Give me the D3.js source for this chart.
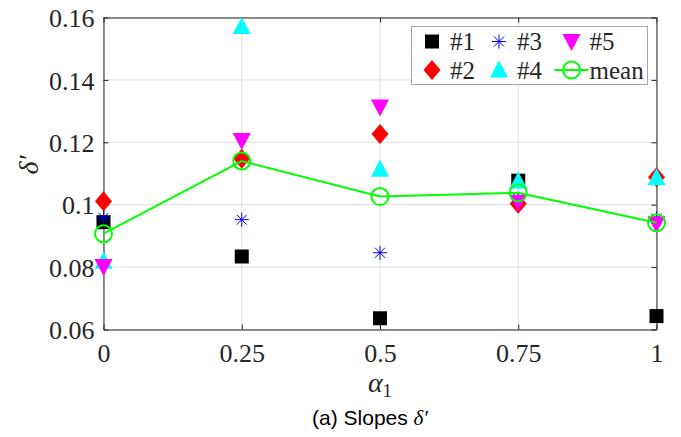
<!DOCTYPE html>
<html>
<head>
<meta charset="UTF-8">
<script src="https://d3js.org/d3.v7.min.js"></script>
<style>
    body { margin: 0; background: #fff; }
    .grid line { stroke: #dedede; stroke-width: 1; }
</style>
</head>
<body>
<div id="chart"></div>
<script>
    // values
    const alphas = [0, 0.25, 0.5, 0.75, 1];
    const s1 = [0.0944, 0.0834, 0.0636, 0.1077, 0.0643];
    const s2 = [0.1011, 0.1147, 0.1227, 0.1003, 0.1088];
    const s3 = [0.0958, 0.0952, 0.0846, 0.1019, 0.0956];
    const s4 = [0.0819, 0.1571, 0.1114, 0.1075, 0.1086];
    const s5 = [0.0802, 0.1206, 0.1313, 0.1008, 0.0939];
    const meanVals = [0.0907, 0.1140, 0.1026, 0.1038, 0.0942];
    const xTicks = [0, 0.25, 0.5, 0.75, 1];
    const xTickLabels = ["0", "0.25", "0.5", "0.75", "1"];
    const yTicks = [0.06, 0.08, 0.1, 0.12, 0.14, 0.16];
    const yTickLabels = ["0.06", "0.08", "0.1", "0.12", "0.14", "0.16"];

    const serif = "Liberation Serif";
    const width = 681, height = 437;
    const pLeft = 103.5, pRight = 656.5, pTop = 17.5, pBottom = 329.5;

    const svg = d3.select("#chart").append("svg")
        .attr("width", width).attr("height", height);

    const x = d3.scaleLinear().domain([0, 1]).range([pLeft, pRight]);
    const y = d3.scaleLinear().domain([0.06, 0.16]).range([pBottom, pTop]);

    // grid
    const grid = svg.append("g").attr("class", "grid");
    grid.selectAll(".gx").data(xTicks).enter().append("line")
        .attr("x1", d => x(d)).attr("x2", d => x(d))
        .attr("y1", pTop).attr("y2", pBottom);
    grid.selectAll(".gy").data(yTicks).enter().append("line")
        .attr("x1", pLeft).attr("x2", pRight)
        .attr("y1", d => y(d)).attr("y2", d => y(d));

    // axes (ticks pointing inwards, box on all sides)
    const xAxis = svg.append("g").attr("transform", `translate(0,${pBottom})`)
        .call(d3.axisBottom(x).tickValues(xTicks).tickFormat((d, i) => xTickLabels[i])
            .tickSizeInner(-5).tickSizeOuter(0).tickPadding(14));
    const yAxis = svg.append("g").attr("transform", `translate(${pLeft},0)`)
        .call(d3.axisLeft(y).tickValues(yTicks).tickFormat((d, i) => yTickLabels[i])
            .tickSizeInner(-5).tickSizeOuter(0).tickPadding(9));
    svg.append("g").attr("transform", `translate(0,${pTop})`)
        .call(d3.axisTop(x).tickValues(xTicks).tickFormat("").tickSizeInner(-5).tickSizeOuter(0));
    svg.append("g").attr("transform", `translate(${pRight},0)`)
        .call(d3.axisRight(y).tickValues(yTicks).tickFormat("").tickSizeInner(-5).tickSizeOuter(0));
    svg.selectAll(".domain").attr("stroke", "#262626");
    svg.selectAll(".tick line").attr("stroke", "#262626");
    xAxis.attr("font-family", serif).attr("font-size", 26);
    yAxis.attr("font-family", serif).attr("font-size", 26);
    svg.selectAll(".tick text").attr("fill", "#262626");
    xAxis.selectAll(".tick text").attr("dy", "0.71em");
    yAxis.selectAll(".tick text").attr("dy", "0.35em");

    // marker paths
    const shapes = {
        square: "M-7,-7H7V7H-7Z",
        diamond: "M0,-10L8.5,0L0,10L-8.5,0Z",
        star: "M-7,0H7M0,-7V7M-5,-5L5,5M-5,5L5,-5",
        up: "M0,-9.5L9,7.5H-9Z",
        down: "M0,9.5L9,-7.5H-9Z",
        circle: d3.symbol(d3.symbolCircle, Math.PI * 8.5 * 8.5)()
    };

    const series = [
        { name: "#1", vals: s1, shape: "square", fill: "#000", stroke: "none" },
        { name: "#2", vals: s2, shape: "diamond", fill: "#ff0000", stroke: "none" },
        { name: "#3", vals: s3, shape: "star", fill: "none", stroke: "#0000ff" },
        { name: "#4", vals: s4, shape: "up", fill: "#00ffff", stroke: "none" },
        { name: "#5", vals: s5, shape: "down", fill: "#ff00ff", stroke: "none" }
    ];

    function marker(g, s) {
        return g.append("path").attr("d", shapes[s.shape])
            .attr("fill", s.fill).attr("stroke", s.stroke).attr("stroke-width", 1);
    }

    series.forEach(s => {
        const g = svg.append("g");
        s.vals.forEach((v, i) => {
            marker(g, s).attr("transform", `translate(${x(alphas[i])},${y(v)})`);
        });
    });

    // mean line
    const line = d3.line().x((d, i) => x(alphas[i])).y(d => y(d));
    svg.append("path").datum(meanVals).attr("d", line)
        .attr("fill", "none").attr("stroke", "#00ff00").attr("stroke-width", 2);
    svg.append("g").selectAll("path").data(meanVals).enter().append("path")
        .attr("d", shapes.circle)
        .attr("transform", (d, i) => `translate(${x(alphas[i])},${y(d)})`)
        .attr("fill", "none").attr("stroke", "#00ff00").attr("stroke-width", 2);

    // legend
    const lg = svg.append("g");
    lg.append("rect").attr("x", 411.5).attr("y", 26.5).attr("width", 236).attr("height", 58)
        .attr("fill", "#fff").attr("stroke", "#a6a6a6").attr("stroke-width", 1);
    const items = [
        { s: series[0], x: 432, y: 41.5 }, { s: series[1], x: 432, y: 70 },
        { s: series[2], x: 499, y: 41.5 }, { s: series[3], x: 499, y: 70 },
        { s: series[4], x: 571.5, y: 41.5 }, { s: { name: "mean", shape: "circle" }, x: 571.5, y: 70 }
    ];
    items.forEach(it => {
        if (it.s.shape === "circle") {
            lg.append("line").attr("x1", it.x - 17).attr("x2", it.x + 17)
                .attr("y1", it.y).attr("y2", it.y)
                .attr("stroke", "#00ff00").attr("stroke-width", 2);
            lg.append("path").attr("d", shapes.circle)
                .attr("transform", `translate(${it.x},${it.y})`)
                .attr("fill", "none").attr("stroke", "#00ff00").attr("stroke-width", 2);
        } else {
            marker(lg, it.s).attr("transform", `translate(${it.x},${it.y})`);
        }
        lg.append("text")
            .attr("x", it.x + 18).attr("y", it.y).attr("dy", "0.35em")
            .attr("font-family", serif).attr("fill", "#262626")
            .attr("font-size", 25).text(it.s.name);
    });

    // axis labels and caption
    const xl = svg.append("text")
        .attr("x", x(0.5)).attr("y", 392).attr("text-anchor", "middle")
        .attr("font-family", serif).attr("fill", "#262626")
        .attr("font-size", 28);
    xl.append("tspan").attr("font-style", "italic").text("α");
    xl.append("tspan").attr("dy", 5).attr("font-size", 19).text("1");

    svg.append("text")
        .attr("transform", "translate(38,165) rotate(-90)")
        .attr("text-anchor", "middle")
        .attr("font-family", serif).attr("fill", "#262626")
        .attr("font-size", 28).attr("font-style", "italic").text("δ′");

    const cap = svg.append("text")
        .attr("x", 370).attr("y", 425).attr("text-anchor", "middle")
        .attr("font-family", "Liberation Sans")
        .attr("font-size", 21).attr("fill", "#000");
    cap.append("tspan").text("(a) Slopes ");
    cap.append("tspan").attr("font-family", serif)
        .attr("font-style", "italic").text("δ′");
</script>
</body>
</html>
